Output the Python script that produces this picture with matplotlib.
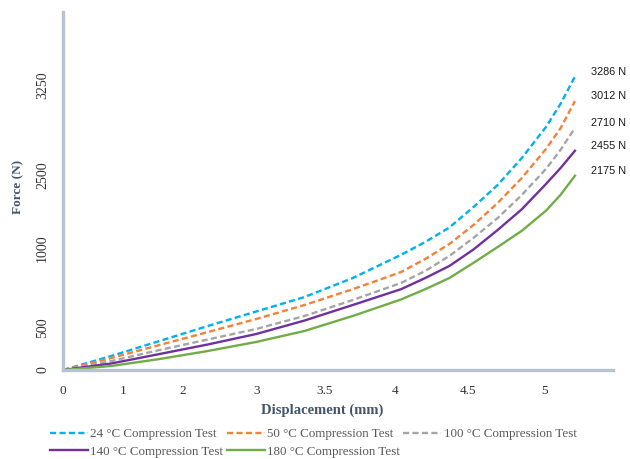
import matplotlib
matplotlib.use("Agg")
import matplotlib.pyplot as plt

# Compression test curves: displacement (mm) vs force (N)
displacement = [0, 0.5, 1.0, 1.5, 2.0, 2.5, 3.0, 3.5, 3.75, 4.0, 4.25, 4.5,
                4.75, 5.0, 5.15, 5.3]
force_24 = [0, 157, 325, 493, 655, 817, 1030, 1290, 1433, 1596, 1825, 2072,
            2374, 2721, 2979, 3286]
force_50 = [0, 134, 280, 425, 571, 728, 905, 1097, 1243, 1411, 1624, 1870,
            2150, 2475, 2706, 3012]
force_100 = [0, 100, 224, 342, 459, 605, 784, 975, 1109, 1277, 1480, 1702,
             1960, 2251, 2464, 2710]
force_140 = [0, 73, 179, 286, 403, 554, 728, 905, 1030, 1165, 1350, 1568,
             1800, 2083, 2260, 2455]
force_180 = [0, 45, 123, 213, 314, 437, 605, 790, 905, 1030, 1200, 1377,
             1559, 1784, 1960, 2175]

series_labels = ["24 °C Compression Test", "50 °C Compression Test",
                 "100 °C Compression Test", "140 °C Compression Test",
                 "180 °C Compression Test"]
end_labels = ["3286 N", "3012 N", "2710 N", "2455 N", "2175 N"]

x_tick_pos = [0, 0.621, 1.239, 2.005, 2.712, 3.437, 4.193, 4.990]
x_tick_labels = ["0", "1", "2", "3", "3.5", "4", "4.5", "5"]
y_tick_pos = [0, 470, 1366, 2184, 3191]
y_tick_labels = ["0", "500", "1000", "2500", "3250"]

colors = ["#00B0F0", "#F4813A", "#A5A5A5", "#7030A0", "#70AD47"]
dashed = [True, True, True, False, False]
series = [force_24, force_50, force_100, force_140, force_180]

serif = "Liberation Serif"

fig = plt.figure(figsize=(6.30, 4.59), dpi=100)
ax = fig.add_axes([63 / 630, 1 - 370 / 459, 550 / 630, 358 / 459])

handles = []
for f, c, d, lab in zip(series, colors, dashed, series_labels):
    if d:
        ln, = ax.plot(displacement, f, color=c, lw=1.7, label=lab,
                      linestyle=(0, (2.6, 1.4)), solid_capstyle="butt",
                      solid_joinstyle="round")
    else:
        ln, = ax.plot(displacement, f, color=c, lw=1.7, label=lab,
                      solid_joinstyle="round")
    handles.append(ln)

# Final force values beside each curve end
for f, txt in zip(series, end_labels):
    ax.annotate(txt, xy=(displacement[-1], f[-1]), xytext=(16, 5),
                textcoords="offset pixels", ha="left", va="center",
                fontsize=7.8, family="Liberation Sans", color="#1a1a1a",
                annotation_clip=False)

ax.set_xlim(0, 5.694)
ax.set_ylim(0, 4009)

for side in ("top", "right"):
    ax.spines[side].set_visible(False)
for side in ("left", "bottom"):
    ax.spines[side].set_color("#B7C3D3")
    ax.spines[side].set_linewidth(2.4)

ax.set_xticks(x_tick_pos)
ax.set_xticklabels(x_tick_labels, family=serif, fontsize=9.5, color="#333333")
ax.set_yticks(y_tick_pos)
ax.set_yticklabels(y_tick_labels, family=serif, fontsize=10, color="#333333",
                   rotation=90, va="center")
ax.tick_params(axis="both", length=0)
ax.tick_params(axis="x", pad=11)
ax.tick_params(axis="y", pad=10)

fig.text(322 / 630, 1 - 410 / 459, "Displacement (mm)", family=serif,
         fontweight="bold", fontsize=10.5, color="#44546A",
         ha="center", va="center")
fig.text(18 / 630, 1 - 187 / 459, "Force (N)", family=serif,
         fontweight="bold", fontsize=9.5, color="#44546A",
         ha="center", va="center", rotation=90)

# Legend laid out row by row: three entries, then two
order = [0, 3, 1, 4, 2]
leg = fig.legend([handles[i] for i in order], [series_labels[i] for i in order],
                 ncol=3, loc="upper left",
                 bbox_to_anchor=(50 / 630, 1 - 428 / 459),
                 frameon=False, borderpad=0, borderaxespad=0,
                 handlelength=2.9, handletextpad=0.2, columnspacing=0.25,
                 labelspacing=0.4,
                 prop={"family": serif, "size": 9.4})
for t in leg.get_texts():
    t.set_color("#595959")

fig.savefig("out.png", dpi=100)
